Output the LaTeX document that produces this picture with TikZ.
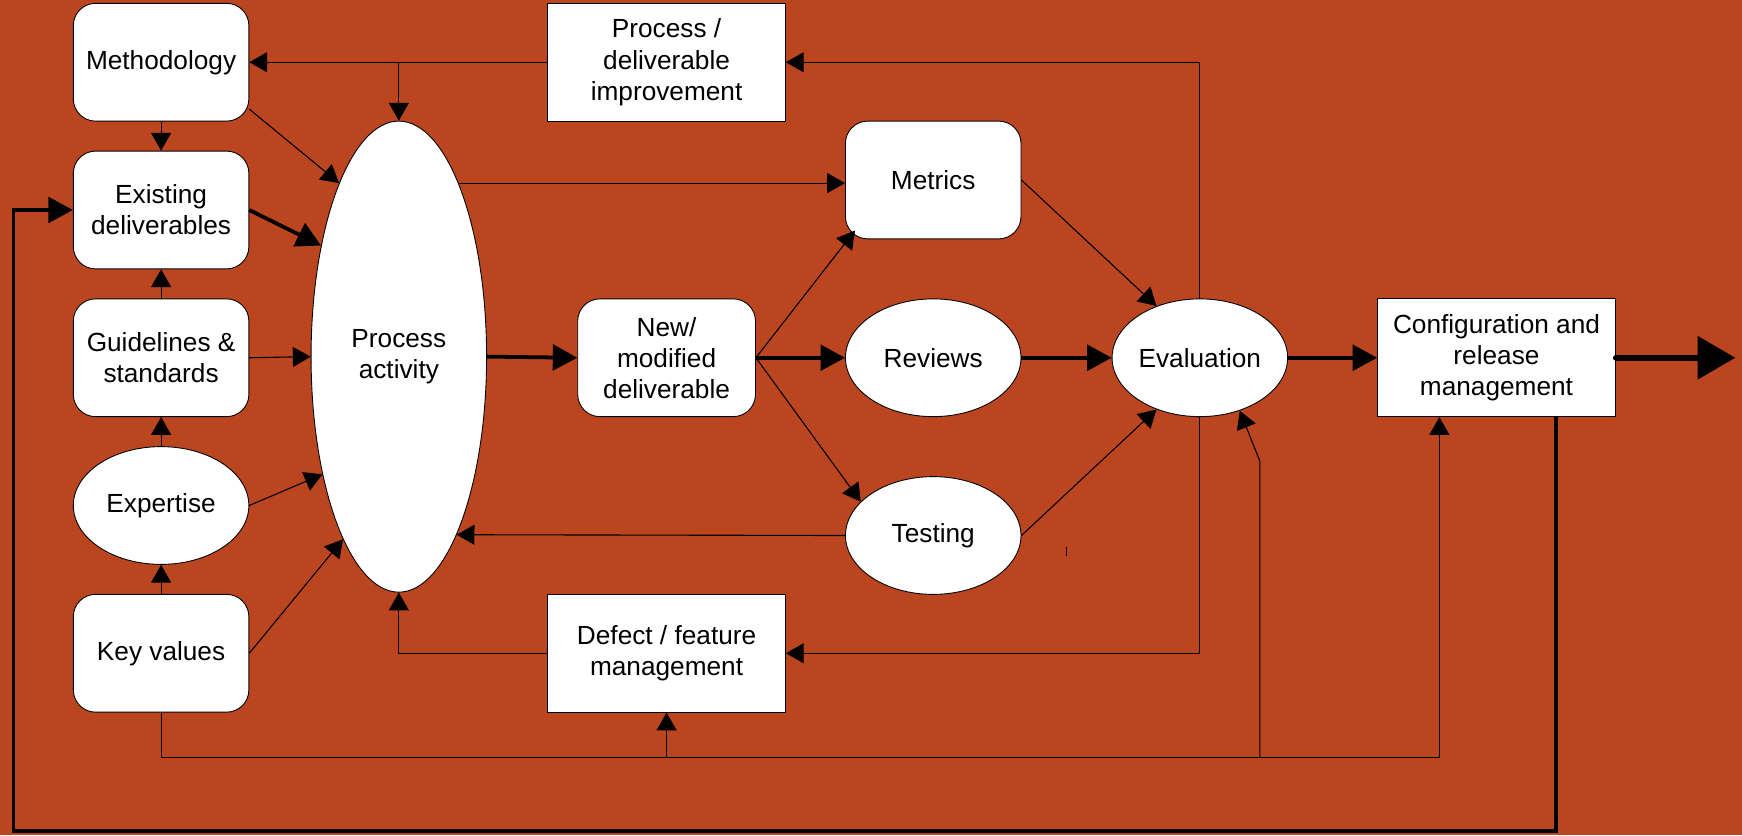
\documentclass[tikz,border=0pt]{standalone}
\usepackage{fontspec}
\setmainfont{Liberation Sans}
\usetikzlibrary{arrows.meta,shapes.geometric}
\definecolor{bg}{RGB}{187,69,30}
\begin{document}
\begin{tikzpicture}[x=0.5pt,y=-0.5pt,
  font=\fontsize{11.8}{14}\selectfont,
  base/.style={draw=black,fill=white,line width=0.4pt,align=center,inner sep=2pt,text=black},
  rbox/.style={base,rectangle,rounded corners=10pt,minimum width=79pt,minimum height=53pt},
  sbox/.style={base,rectangle,minimum width=107pt,minimum height=53pt},
  oval/.style={base,ellipse,minimum width=79pt,minimum height=53pt,inner sep=0pt},
  ln/.style={line width=0.5pt,draw=black},
  arr/.style={ln,-{Triangle[length=8pt,width=9pt]}},
  tarr/.style={line width=1.7pt,draw=black,-{Triangle[length=11pt,width=11.5pt]}},
]
\fill[bg] (0,0) rectangle (1568,752);
\useasboundingbox (0,0) rectangle (1568,752);

% nodes
\node[rbox] (meth) at (145,56) {Methodology};
\node[rbox] (ed) at (145,189) {Existing\\deliverables};
\node[rbox] (gs) at (145,322) {Guidelines \&\\standards};
\node[oval] (ex) at (145,455) {Expertise};
\node[rbox] (kv) at (145,588) {Key values};
\node[base,ellipse,minimum width=79pt,minimum height=212pt,inner sep=0pt] (pa) at (359,321) {Process\\activity};
\node[sbox] (pi) at (600,56) {Process /\\deliverable\\improvement};
\node[rbox] (met) at (840,162) {Metrics};
\node[rbox,minimum width=80pt] (nd) at (600,322) {New/\\modified\\deliverable};
\node[oval] (rv) at (840,322) {Reviews};
\node[oval] (tst) at (840,482) {Testing};
\node[oval] (ev) at (1080,322) {Evaluation};
\node[sbox] (cf) at (1347,322) {Configuration and\\release\\management};
\node[sbox] (df) at (600,588) {Defect / feature\\management};

% helper coordinates
\coordinate (pij) at (pa.north |- pi.west);
\coordinate (bus) at (0,682);
\coordinate (cfi) at ([xshift=28pt]cf.south west);
\coordinate (cfo) at ([xshift=-27pt]cf.south east);
\coordinate (evb) at (1134,415);
\coordinate (lb) at (12,748);
\coordinate (out) at (1562,322);

% left column
\draw[arr] (meth.south) -- (ed.north);
\draw[arr] (gs.north) -- (ed.south);
\draw[arr] (ex.north) -- (gs.south);
\draw[arr] (kv.north) -- (ex.south);

% into process activity
\draw[arr] (meth.-28) -- (pa.109);
\draw[tarr] (ed.east) -- (pa.125);
\draw[arr] (gs.east) -- (pa.west);
\draw[arr] (ex.east) -- (pa.-123);
\draw[arr] (kv.east) -- (pa.-107);

% top feedback
\draw[arr] (pi.west) -- (meth.east);
\draw[arr] (pij) -- (pa.north);
\draw[arr] (ev.north) |- (pi.east);

% bottom feedback
\draw[arr] (ev.south) |- (df.east);
\draw[arr] (df.west) -| (pa.south);

% main flow
\draw[arr] (pa.71.9) -- (pa.71.9 -| met.west);
\draw[tarr] (pa.east) -- (nd.west);
\draw[arr] (nd.east) -- ([shift={(9,-8)}]met.south west);
\draw[tarr] (nd.east) -- (rv.west);
\draw[arr] (nd.east) -- (tst.155);
\draw[arr] (tst.west) -- (pa.-72.3);
\draw[arr] (met.east) -- (ev.130);
\draw[tarr] (rv.east) -- (ev.west);
\draw[arr] (tst.east) -- (ev.-130);
\draw[tarr] (ev.east) -- (cf.west);
\draw[line width=2.6pt,line cap=round,-{Triangle[length=17pt,width=19pt]}] (cf.east) -- (out);

% bus from key values
\draw[arr] (kv.south) |- (bus -| cfi) -- (cfi);
\draw[arr] (bus -| df.south) -- (df.south);
\draw[arr] (bus -| evb) -- (evb) -- (ev.-53);

% big loop back
\draw[line width=1.6pt,-{Triangle[length=11pt,width=11.5pt]}] (cfo) |- (lb) |- (ed.west);

% small tick
\draw[ln] (960,492) -- (960,500);
\end{tikzpicture}
\end{document}
